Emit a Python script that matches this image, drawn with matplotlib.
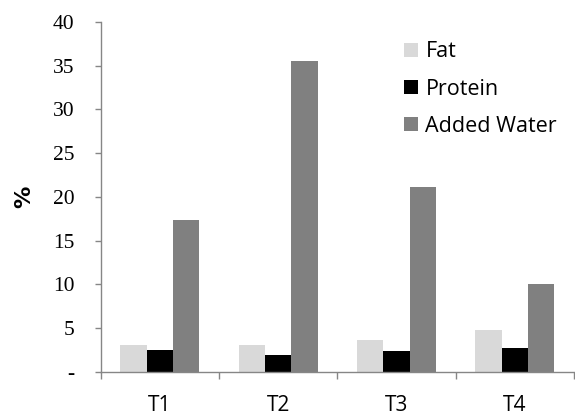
import numpy as np
import matplotlib.pyplot as plt

categories = ["T1", "T2", "T3", "T4"]
fat = [3.1, 3.1, 3.6, 4.8]
protein = [2.5, 1.9, 2.4, 2.7]
added_water = [17.4, 35.5, 21.1, 10.0]

series_names = ["Fat", "Protein", "Added Water"]
series_colors = ["#D9D9D9", "#000000", "#808080"]
y_ticks = [0, 5, 10, 15, 20, 25, 30, 35, 40]
y_tick_labels = ["-", "5", "10", "15", "20", "25", "30", "35", "40"]

axis_color = "#868686"

fig = plt.figure(figsize=(5.75, 4.15), dpi=100)
ax = fig.add_axes([0.175, 0.104, 0.823, 0.843])

x = np.arange(len(categories))
width = 1 / 4.5

for i, (values, name, color) in enumerate(zip([fat, protein, added_water], series_names, series_colors)):
    ax.bar(x + (i - 1) * width, values, width, color=color, label=name, zorder=2)

ax.set_xlim(-0.5, len(categories) - 0.5)
ax.set_ylim(0, 40)

ax.set_yticks(y_ticks)
ax.set_yticklabels(y_tick_labels, fontfamily="Liberation Serif", fontsize=15.5)
ax.tick_params(axis="y", length=4, color=axis_color, width=1, pad=15)

# category boundaries as major ticks, labels on minor ticks
ax.set_xticks(np.arange(-0.5, len(categories), 1.0))
ax.set_xticklabels([])
ax.set_xticks(x, minor=True)
ax.set_xticklabels(categories, minor=True, fontfamily="Open Sans", fontsize=15)
ax.tick_params(axis="x", which="major", length=5, color=axis_color, width=1)
ax.tick_params(axis="x", which="minor", length=0, pad=17)

for side in ["top", "right"]:
    ax.spines[side].set_visible(False)
for side in ["left", "bottom"]:
    ax.spines[side].set_color(axis_color)
    ax.spines[side].set_linewidth(1)

ax.set_ylabel("%", fontsize=16, fontweight="bold", fontfamily="DejaVu Sans", labelpad=13)

ax.legend(loc="upper left", bbox_to_anchor=(0.6, 1.0), frameon=False,
          prop={"family": "Open Sans", "size": 15.5},
          handlelength=0.65, handleheight=0.65, handletextpad=0.35, labelspacing=0.75)

fig.savefig("out.png", dpi=100)
